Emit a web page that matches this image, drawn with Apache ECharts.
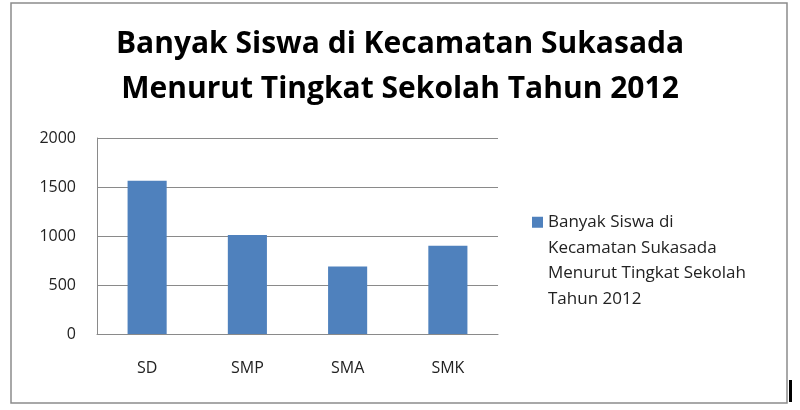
<!DOCTYPE html>
<html>
<head>
<meta charset="utf-8">
<script src="https://cdn.jsdelivr.net/npm/echarts@6/dist/echarts.min.js"></script>
<style>
  html, body { margin: 0; padding: 0; background: #fff; }
  #chart { width: 800px; height: 410px; }
</style>
</head>
<body>
<div id="chart"></div>
<script>
// data
var categories = ['SD', 'SMP', 'SMA', 'SMK'];
var siswa = [1565, 1010, 690, 900];
var yTicks = [0, 500, 1000, 1500, 2000];
var seriesName = 'Banyak Siswa di\nKecamatan Sukasada\nMenurut Tingkat Sekolah\nTahun 2012';
var titleText = 'Banyak Siswa di Kecamatan Sukasada\nMenurut Tingkat Sekolah Tahun 2012';

var myChart = echarts.init(document.getElementById('chart'));

var option = {
  animation: false,
  title: {
    text: titleText,
    left: 'center',
    top: 22,
    padding: 0,
    textStyle: {
      fontFamily: 'Open Sans',
      fontWeight: 'bold',
      fontSize: 30,
      lineHeight: 45,
      color: '#000'
    }
  },
  legend: {
    orient: 'vertical',
    left: 532,
    top: 133,
    padding: 0,
    icon: 'rect',
    itemWidth: 11,
    itemHeight: 11,
    data: [seriesName],
    // blank lines in front so the marker sits next to the first line
    formatter: function (name) { return '\n\n\n' + name; },
    textStyle: {
      fontFamily: 'Open Sans',
      fontSize: 17,
      lineHeight: 25.5,
      color: '#222'
    }
  },
  grid: {
    left: 97,
    right: 302,
    top: 138,
    bottom: 76,
    containLabel: false
  },
  xAxis: {
    type: 'category',
    data: categories,
    axisLine: { lineStyle: { color: '#8a8a8a', width: 1 } },
    axisTick: { show: false },
    axisLabel: {
      margin: 26,
      fontFamily: 'Open Sans',
      fontSize: 16,
      color: '#222'
    }
  },
  yAxis: {
    type: 'value',
    min: yTicks[0],
    max: yTicks[yTicks.length - 1],
    interval: 500,
    axisLine: { show: true, lineStyle: { color: '#8a8a8a', width: 1 } },
    axisTick: { show: false },
    splitLine: { lineStyle: { color: '#8a8a8a', width: 1 } },
    axisLabel: {
      margin: 21,
      fontFamily: 'Open Sans',
      fontSize: 16,
      color: '#222',
      formatter: function (v) { return String(v); }
    }
  },
  series: [{
    name: seriesName,
    type: 'bar',
    barWidth: '39%',
    itemStyle: { color: '#4F81BD' },
    data: siswa
  }],
  graphic: [
    {
      type: 'rect',
      shape: { x: 11, y: 3, width: 776, height: 400 },
      style: { fill: 'none', stroke: '#8c8c8c', lineWidth: 1.5 },
      silent: true
    },
    {
      type: 'rect',
      shape: { x: 789, y: 380, width: 3, height: 22 },
      style: { fill: '#000' },
      silent: true
    }
  ]
};

myChart.setOption(option);
</script>
</body>
</html>
